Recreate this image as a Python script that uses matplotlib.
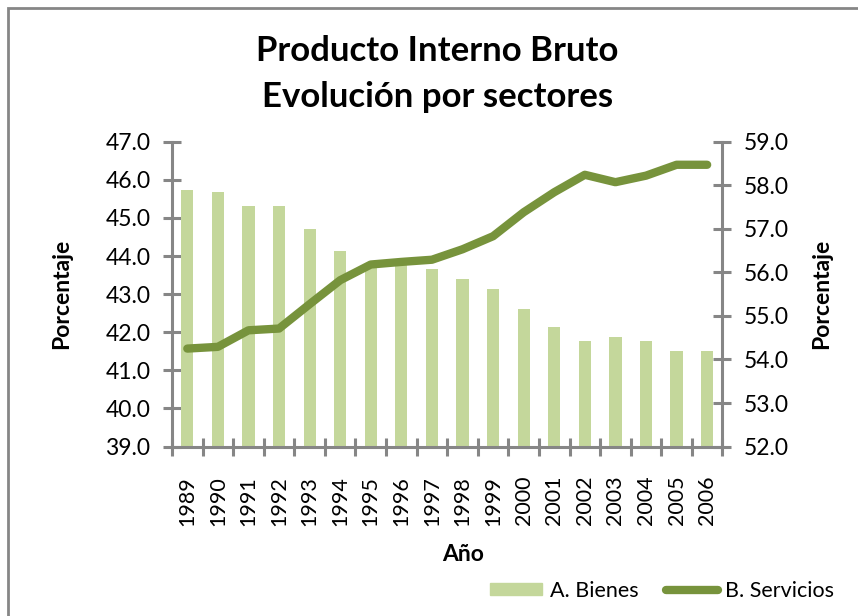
import matplotlib
matplotlib.use("Agg")
import matplotlib.pyplot as plt
import numpy as np
from matplotlib.lines import Line2D
from matplotlib.patches import Patch, Rectangle

plt.rcParams["font.family"] = ["Lato", "DejaVu Sans"]

# ── data ──
years = [1989, 1990, 1991, 1992, 1993, 1994, 1995, 1996, 1997,
         1998, 1999, 2000, 2001, 2002, 2003, 2004, 2005, 2006]
bienes = [45.73, 45.68, 45.30, 45.30, 44.72, 44.14, 43.80, 43.78, 43.67,
          43.40, 43.14, 42.61, 42.14, 41.77, 41.88, 41.77, 41.51, 41.51]
servicios = [54.25, 54.29, 54.67, 54.71, 55.27, 55.82, 56.18, 56.24, 56.29,
             56.53, 56.83, 57.38, 57.84, 58.24, 58.07, 58.22, 58.47, 58.47]

BAR_C = "#c4d79b"
LINE_C = "#77933c"
AX_C = "#868686"

fig = plt.figure(figsize=(8.58, 6.16), dpi=100)
ax = fig.add_axes([0.2005, 0.275, 0.6415, 0.495])
ax2 = ax.twinx()

x = np.arange(len(years))
ax.bar(x, bienes, width=0.4, color=BAR_C, zorder=2)
ax2.plot(x, servicios, color=LINE_C, lw=6, solid_capstyle="round",
         solid_joinstyle="round", zorder=3)

ax.set_xlim(-0.5, len(years) - 0.5)
ax.set_ylim(39, 47)
ax2.set_ylim(52, 59)
ax.set_yticks(np.arange(39, 47.1, 1))
ax.set_yticklabels([f"{v:.1f}" for v in np.arange(39, 47.1, 1)])
ax2.set_yticks(np.arange(52, 59.1, 1))
ax2.set_yticklabels([f"{v:.1f}" for v in np.arange(52, 59.1, 1)])

ax.set_xticks(x)
ax.set_xticklabels([str(y) for y in years], rotation=90, fontsize=15.5)
ax.set_xticks(np.arange(-0.5, len(years), 1), minor=True)
ax.tick_params(axis="x", which="major", length=0, pad=21)
ax.tick_params(axis="x", which="minor", direction="inout", length=13,
               width=2.2, color=AX_C)
ax.tick_params(axis="y", direction="inout", length=13, width=2.2,
               color=AX_C, labelsize=16.5, pad=9)
ax2.tick_params(axis="y", direction="inout", length=13, width=2.2,
                color=AX_C, labelsize=16.5, pad=9)

for a in (ax, ax2):
    for s in a.spines.values():
        s.set_visible(False)
ax.spines["left"].set_visible(True)
ax.spines["bottom"].set_visible(True)
ax2.spines["right"].set_visible(True)
for s in (ax.spines["left"], ax.spines["bottom"], ax2.spines["right"]):
    s.set_color(AX_C)
    s.set_linewidth(2.2)

ax.set_ylabel("Porcentaje", fontsize=16.5, fontweight="bold")
ax.yaxis.set_label_coords(-0.182, 0.5)
ax2.set_ylabel("Porcentaje", fontsize=16.5, fontweight="bold", rotation=90)
ax2.yaxis.set_label_coords(1.161, 0.5)
ax.set_xlabel("Año", fontsize=16.5, fontweight="bold")
ax.xaxis.set_label_coords(0.528, -0.32)

fig.text(0.51, 0.918, "Producto Interno Bruto", ha="center", va="center",
         fontsize=25, fontweight="bold")
fig.text(0.51, 0.842, "Evolución por sectores", ha="center", va="center",
         fontsize=25, fontweight="bold")

handles = [Patch(color=BAR_C, label="A. Bienes"),
           Line2D([], [], color=LINE_C, lw=6, solid_capstyle="round",
                  label="B. Servicios")]
fig.legend(handles=handles, loc="center", bbox_to_anchor=(0.772, 0.041),
           ncol=2, frameon=False, fontsize=15.5, handlelength=2.4,
           handleheight=0.45, columnspacing=1.3, handletextpad=0.35)

fig.patches.append(Rectangle((8 / 858, -0.1), 1.2, 1.1 - 8 / 616,
                             transform=fig.transFigure, fill=False,
                             edgecolor="#868686", lw=2))

fig.savefig("out.png", dpi=100)
